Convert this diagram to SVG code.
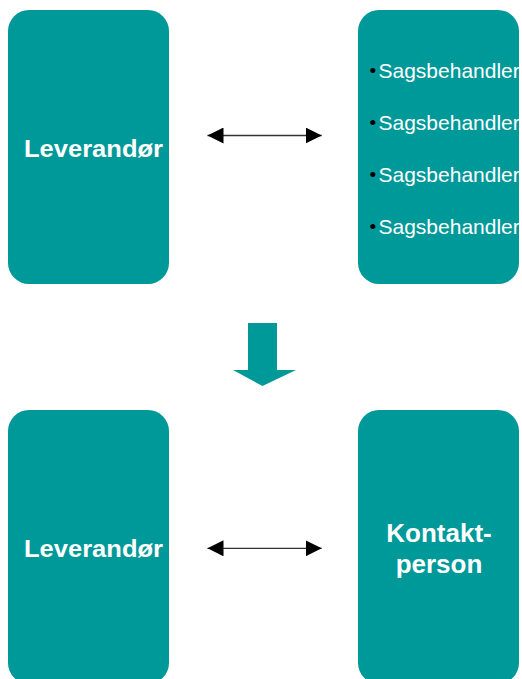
<svg xmlns="http://www.w3.org/2000/svg" width="522" height="679" viewBox="0 0 522 679">
<style>
.box{fill:#009999}
.bold{font-family:"Liberation Sans",Arial,sans-serif;font-weight:bold;fill:#fff;text-anchor:middle}
.item{font-family:"Liberation Sans",Arial,sans-serif;font-size:21px;fill:#fff}
.bul{font-family:"Liberation Sans",Arial,sans-serif;font-size:19px;fill:#000}
.conn{stroke:#333;stroke-width:1.3;fill:none}
</style>
<defs>
<marker id="ah" markerUnits="userSpaceOnUse" markerWidth="17" markerHeight="16" refX="16" refY="8" orient="auto-start-reverse">
<path d="M0,0 L16,8 L0,16 Z" fill="#000"/>
</marker>
</defs>
<g id="leverandor-top">
<rect class="box" x="8" y="10" width="161" height="274" rx="21"/>
<text class="bold" x="93.5" y="157" font-size="23" textLength="139" lengthAdjust="spacingAndGlyphs">Leverandør</text>
</g>
<g id="sagsbehandlere">
<rect class="box" x="358" y="10" width="161" height="274" rx="21"/>
<text class="bul" x="369.5" y="77">•</text><text class="item" x="378.5" y="78">Sagsbehandler</text>
<text class="bul" x="369.5" y="129">•</text><text class="item" x="378.5" y="130">Sagsbehandler</text>
<text class="bul" x="369.5" y="181">•</text><text class="item" x="378.5" y="182">Sagsbehandler</text>
<text class="bul" x="369.5" y="233">•</text><text class="item" x="378.5" y="234">Sagsbehandler</text>
</g>
<g id="transition">
<path d="M248,323 H277 V370 H296 L262.5,386 L233,370 H248 Z" fill="#009999"/>
</g>
<g id="leverandor-bottom">
<rect class="box" x="8" y="410" width="161" height="274" rx="21"/>
<text class="bold" x="93.5" y="557" font-size="23" textLength="139" lengthAdjust="spacingAndGlyphs">Leverandør</text>
</g>
<g id="kontaktperson">
<rect class="box" x="358" y="410" width="161" height="274" rx="21"/>
<text class="bold" x="439" y="542" font-size="26">Kontakt-</text>
<text class="bold" x="439" y="573" font-size="26">person</text>
</g>
<g id="connectors">
<line class="conn" x1="207.5" y1="135.5" x2="321.7" y2="135.5" marker-start="url(#ah)" marker-end="url(#ah)"/>
<line class="conn" x1="207.5" y1="548.3" x2="321.7" y2="548.3" marker-start="url(#ah)" marker-end="url(#ah)"/>
</g>
</svg>
